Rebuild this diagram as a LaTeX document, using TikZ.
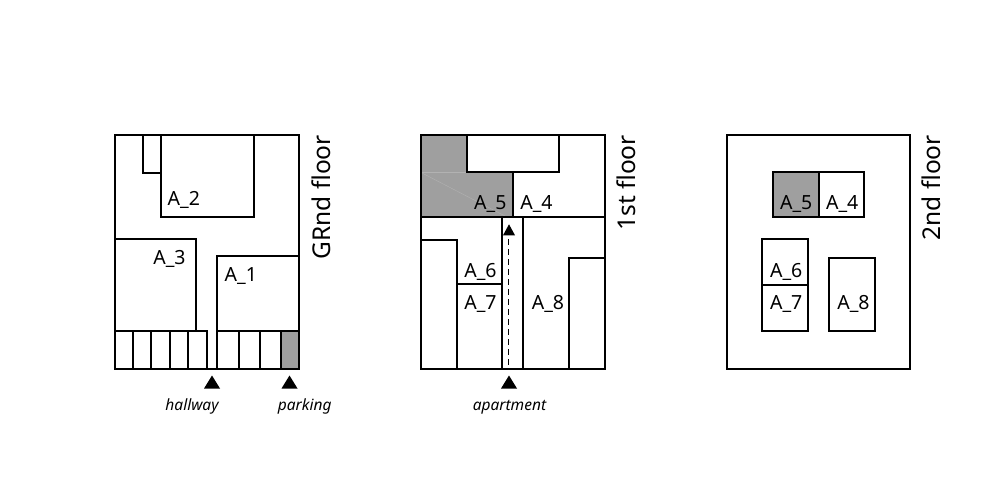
\documentclass[tikz,border=0pt]{standalone}
\usepackage{fontspec}
\setmainfont{Noto Sans}
\begin{document}
\begin{tikzpicture}[x=1pt,y=-1pt,
  wall/.style={draw=black,line width=1.8pt},
  shade/.style={fill=gray!75},
  lbl/.style={anchor=base,inner sep=0pt,font=\fontsize{19.5}{22}\selectfont},
  floorlbl/.style={anchor=base east,rotate=90,inner sep=0pt,font=\fontsize{24.5}{28}\selectfont},
  entry/.style={anchor=base,inner sep=0pt,font=\itshape\fontsize{15.5}{18}\selectfont},
  tri/.style={fill=black}]
\useasboundingbox (0,0) rectangle (1006,484);
\fill[white] (0,0) rectangle (1006,484);

% ---------------- Ground floor ----------------
\draw[wall] (143,135) rectangle (161,173);
\draw[wall] (161,135) rectangle (254,217);
\draw[wall] (115,239) rectangle (196,331);
\draw[wall] (217,256) rectangle (299,331);
\draw[wall] (115,331) -- (207,331) -- (207,369);
\foreach \x in {133,151,170,188} \draw[wall] (\x,331) -- (\x,369);
\fill[shade] (281,331) rectangle (299,369);
\draw[wall] (217,331) -- (217,369);
\foreach \x in {239,260,281} \draw[wall] (\x,331) -- (\x,369);
\draw[wall] (281,331) rectangle (299,369);
\draw[wall] (115,135) rectangle (299,369);
\node[lbl] (a2) at (183.8,205.3) {A\_2};
\node[lbl] (a3) at (169.5,264.3) {A\_3};
\node[lbl] (a1) at (240.8,281) {A\_1};
\node[floorlbl] (gf) at (330,135) {GRnd floor};
\fill[tri] (212,375.5) -- (204,388.5) -- (220,388.5) -- cycle;
\fill[tri] (289.5,375.5) -- (281.5,388.5) -- (297.5,388.5) -- cycle;
\node[entry] (hall) at (192,410) {hallway};
\node[entry] (park) at (304.7,410) {parking};

% ---------------- 1st floor ----------------
\fill[shade] (421,135) -- (467,135) -- (467,172) -- (513,172) -- (513,217) -- (421,217) -- cycle;
\draw[gray!60,line width=0.4pt] (421,172) -- (467,172);
\draw[gray!60,line width=0.4pt] (422,173) -- (505,216);
\draw[wall] (421,135) rectangle (605,369);
\draw[wall] (467,135) rectangle (559,172);
\draw[wall] (467,172) -- (513,172) -- (513,217);
\draw[wall] (421,217) -- (605,217);
\draw[wall] (502,217) -- (502,369);
\draw[wall] (523,217) -- (523,369);
\draw[wall] (421,240) -- (457,240) -- (457,369);
\draw[wall] (457,284) -- (502,284);
\draw[wall] (605,258) -- (569,258) -- (569,369);
\draw[black,line width=1pt,dash pattern=on 6pt off 4pt] (508.5,239) -- (508.5,369);
\fill[tri] (509,224.3) -- (503,235.3) -- (515,235.3) -- cycle;
\fill[tri] (509,375.5) -- (501,388.5) -- (517,388.5) -- cycle;
\node[lbl] (b5) at (490.3,209.3) {A\_5};
\node[lbl] (b4) at (536.5,209.3) {A\_4};
\node[lbl] (b6) at (480.5,277.3) {A\_6};
\node[lbl] (b7) at (480.5,309.3) {A\_7};
\node[lbl] (b8) at (548,309.3) {A\_8};
\node[floorlbl] (ff) at (635,135) {1st floor};
\node[entry] (apt) at (509.5,410) {apartment};

% ---------------- 2nd floor ----------------
\draw[wall] (727,135) rectangle (910,369);
\fill[shade] (773,172) rectangle (819,217);
\draw[wall] (773,172) rectangle (819,217);
\draw[wall] (819,172) rectangle (864,217);
\draw[wall] (762,239) rectangle (808,331);
\draw[wall] (762,285) -- (808,285);
\draw[wall] (829,258) rectangle (875,331);
\node[lbl] (c5) at (796.2,209.3) {A\_5};
\node[lbl] (c4) at (842.2,209.3) {A\_4};
\node[lbl] (c6) at (786.2,277.7) {A\_6};
\node[lbl] (c7) at (786.2,309.3) {A\_7};
\node[lbl] (c8) at (853.5,309.3) {A\_8};
\node[floorlbl] (sf) at (940,135) {2nd floor};
\end{tikzpicture}
\end{document}
